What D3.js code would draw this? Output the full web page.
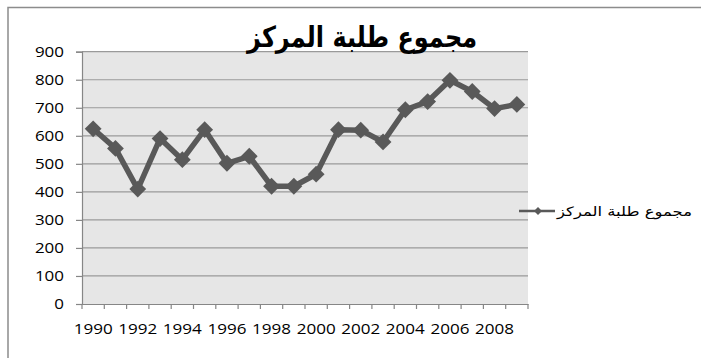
<!DOCTYPE html>
<html>
<head>
<meta charset="utf-8">
<script src="https://cdn.jsdelivr.net/npm/d3@7"></script>
<style>
  html, body { margin: 0; padding: 0; background: #fff; }
  svg { display: block; }
</style>
</head>
<body>
<svg id="chart" width="701" height="358"></svg>
<script>
// Students per year
const years = ["1990","1991","1992","1993","1994","1995","1996","1997","1998","1999",
               "2000","2001","2002","2003","2004","2005","2006","2007","2008","2009"];
const students = [625, 555, 410, 590, 515, 622, 502, 527, 420, 420,
                  463, 622, 620, 578, 693, 722, 798, 758, 697, 712];
const yTicks = [0, 100, 200, 300, 400, 500, 600, 700, 800, 900];
const xLabels = years.filter((d, i) => i % 2 === 0);
const title = "مجموع طلبة المركز";
const seriesName = "مجموع طلبة المركز";

const svg = d3.select("#chart");
const plot = { left: 82, right: 528, top: 51.7, bottom: 304 };
const lineColor = "#595959";
const numFont = "'Open Sans', 'DejaVu Sans', sans-serif";
const arFont = "'DejaVu Sans', sans-serif";

// chart frame (continues past the right and bottom edges)
svg.append("rect")
  .attr("x", 8).attr("y", 7.5).attr("width", 720).attr("height", 380)
  .attr("fill", "#fff").attr("stroke", "#8c8c8c").attr("stroke-width", 1.5);

const x = d3.scaleBand().domain(years).range([plot.left, plot.right]).padding(0);
const y = d3.scaleLinear().domain([0, 900]).range([plot.bottom, plot.top]);
const cx = d => x(d) + x.bandwidth() / 2;

// plot background
svg.append("rect")
  .attr("x", plot.left).attr("y", plot.top)
  .attr("width", plot.right - plot.left).attr("height", plot.bottom - plot.top)
  .attr("fill", "#e6e6e6");

// gridlines
svg.append("g").selectAll("line").data(yTicks.filter(v => v > 0)).join("line")
  .attr("x1", plot.left).attr("x2", plot.right)
  .attr("y1", d => y(d)).attr("y2", d => y(d))
  .attr("stroke", "#9a9a9a").attr("stroke-width", 1.2);

// y axis
const yAxis = svg.append("g").attr("transform", `translate(${plot.left},0)`)
  .call(d3.axisLeft(y).tickValues(yTicks).tickSize(6).tickPadding(12).tickFormat(d3.format("d")));
yAxis.select(".domain").attr("stroke", "#868686").attr("stroke-width", 1.2);
yAxis.selectAll(".tick line").attr("stroke", "#868686").attr("stroke-width", 1.2);
yAxis.selectAll(".tick text")
  .attr("font-family", numFont).attr("font-size", 14).attr("fill", "#000")
  .attr("textLength", d => String(d).length * 9.7).attr("lengthAdjust", "spacingAndGlyphs");

// x axis: labels on every other category centre, ticks on category boundaries
const xAxis = svg.append("g").attr("transform", `translate(0,${plot.bottom})`)
  .call(d3.axisBottom(x).tickValues(xLabels).tickSize(0).tickPadding(20));
xAxis.select(".domain").attr("stroke", "#868686").attr("stroke-width", 1.2);
xAxis.selectAll(".tick text")
  .attr("font-family", numFont).attr("font-size", 14).attr("fill", "#000")
  .attr("textLength", 39).attr("lengthAdjust", "spacingAndGlyphs");
const bounds = years.map(d => x(d)).concat([x(years[years.length - 1]) + x.bandwidth()]);
svg.append("g").selectAll("line").data(bounds).join("line")
  .attr("x1", d => d).attr("x2", d => d)
  .attr("y1", plot.bottom).attr("y2", plot.bottom + 5)
  .attr("stroke", "#868686").attr("stroke-width", 1.2);

// series line
const line = d3.line().x((d, i) => cx(years[i])).y(d => y(d));
svg.append("path").datum(students)
  .attr("d", line).attr("fill", "none")
  .attr("stroke", lineColor).attr("stroke-width", 5.5).attr("stroke-linejoin", "round");

// diamond markers
const diamond = d3.symbol().type(d3.symbolDiamond2).size(180);
svg.append("g").selectAll("path").data(students).join("path")
  .attr("d", diamond)
  .attr("transform", (d, i) => `translate(${cx(years[i])},${y(d)})`)
  .attr("fill", lineColor);

// title
svg.append("text")
  .attr("x", 362).attr("y", 47).attr("text-anchor", "middle")
  .attr("font-family", arFont).attr("font-weight", "bold").attr("font-size", 29)
  .attr("textLength", 230).attr("lengthAdjust", "spacingAndGlyphs")
  .attr("fill", "#000").text(title);

// legend
const lg = svg.append("g");
lg.append("line").attr("x1", 519).attr("x2", 555).attr("y1", 211).attr("y2", 211)
  .attr("stroke", lineColor).attr("stroke-width", 2.5);
lg.append("path").attr("d", d3.symbol().type(d3.symbolDiamond2).size(40))
  .attr("transform", "translate(538,211)").attr("fill", lineColor);
lg.append("text")
  .attr("x", 624.5).attr("y", 216).attr("text-anchor", "middle")
  .attr("font-family", arFont).attr("font-size", 13)
  .attr("textLength", 135).attr("lengthAdjust", "spacingAndGlyphs")
  .attr("fill", "#000").text(seriesName);
</script>
</body>
</html>
